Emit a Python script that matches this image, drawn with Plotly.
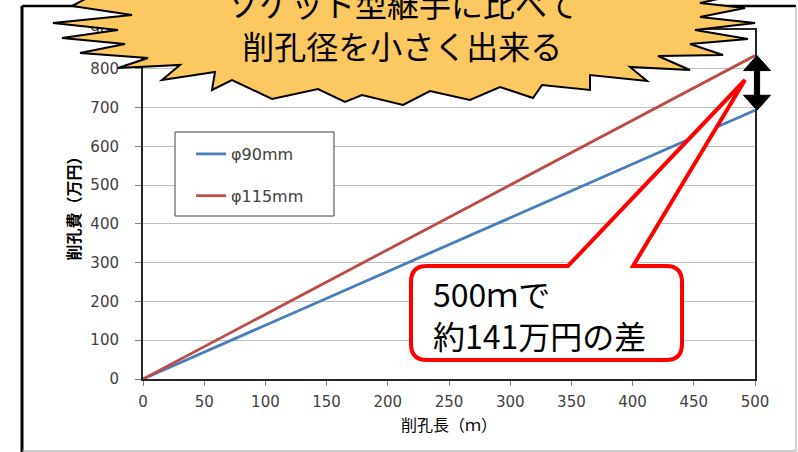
import plotly.graph_objects as go

# ---------------- data ----------------
length_m = [0, 500]
cost_phi90 = [0, 693]
cost_phi115 = [0, 834]
series_names = ["φ90mm", "φ115mm"]
series_colors = ["#4A7EBB", "#BE4B48"]
x_ticks = [0, 50, 100, 150, 200, 250, 300, 350, 400, 450, 500]
y_ticks = [0, 100, 200, 300, 400, 500, 600, 700, 800, 900]
x_title = "削孔長（ｍ）"
y_title = "<b>削孔費（万円）</b>"
burst_lines = ["ソケット型継手に比べて", "削孔径を小さく出来る"]
callout_lines = ["500ｍで", "約141万円の差"]

# ---------------- layout geometry (px) ----------------
W, H = 798, 452
PL, PR, PT, PB = 143, 755, 30, 379  # plot area edges
YMAX = 900


def pp(x, y):
    """pixel -> paper coordinates"""
    return (x - PL) / (PR - PL), (PB - y) / (PB - PT)


def path_from(cmds):
    out = []
    for c in cmds:
        if c == "Z":
            out.append("Z")
        else:
            op, pts = c[0], c[1:]
            s = op
            for (x, y) in pts:
                u, v = pp(x, y)
                s += f" {u:.5f},{v:.5f}"
            out.append(s)
    return " ".join(out)


def ypx(v):
    return PB - v * (PB - PT) / YMAX


fig = go.Figure()
for i, (name, ys) in enumerate(zip(series_names, [cost_phi90, cost_phi115])):
    fig.add_trace(go.Scatter(
        x=length_m, y=ys, mode="lines", name=name,
        line=dict(color=series_colors[i], width=2.8),
        legendgroup=f"g{i}",
    ))

shapes = []

# outer chart frame
for (x0, y0, x1, y1, col, w) in [
    (22, 6, 22, 452, "#000000", 3),
    (22, 6, 796, 6, "#000000", 2.5),
    (796, 6, 796, 451, "#A0A0A0", 1),
    (22, 451, 796, 451, "#A0A0A0", 1),
]:
    a, b = pp(x0, y0)
    c, d = pp(x1, y1)
    shapes.append(dict(type="line", xref="paper", yref="paper", x0=a, y0=b, x1=c, y1=d,
                       line=dict(color=col, width=w), layer="above"))

# legend box
a, b = pp(175, 132)
c, d = pp(334, 216)
shapes.append(dict(type="rect", xref="paper", yref="paper", x0=a, y0=b, x1=c, y1=d,
                   line=dict(color="#404040", width=1), fillcolor="white", layer="above"))

# starburst
burst = [(140, -30), (72, 6), (132, 15), (53, 23), (118, 30), (62, 38), (125, 44), (80, 53),
         (148, 58), (118, 68), (180, 65), (162, 80), (215, 72), (212, 90), (232, 80), (272, 99),
         (318, 89), (345, 102), (362, 95), (403, 105), (430, 91), (470, 100), (500, 87),
         (533, 98), (542, 85), (590, 90), (590, 75), (647, 81), (630, 67), (690, 70),
         (658, 56), (723, 55), (690, 44), (748, 39), (695, 30), (755, 23), (700, 17),
         (745, 8), (700, 3), (750, -8), (680, -30)]
cmds = [("M", burst[0])] + [("L", p) for p in burst[1:]] + ["Z"]
shapes.append(dict(type="path", xref="paper", yref="paper", path=path_from(cmds),
                   fillcolor="#FCC862", line=dict(color="#000000", width=2), layer="above"))

# callout with pointer
bx0, by0, bx1, by1, r = 411, 266, 682, 360, 16
tip = (745, 80)
cmds = [
    ("M", (bx0 + r, by0)), ("L", (568, by0)), ("L", tip), ("L", (633, by0)),
    ("L", (bx1 - r, by0)), ("Q", (bx1, by0), (bx1, by0 + r)),
    ("L", (bx1, by1 - r)), ("Q", (bx1, by1), (bx1 - r, by1)),
    ("L", (bx0 + r, by1)), ("Q", (bx0, by1), (bx0, by1 - r)),
    ("L", (bx0, by0 + r)), ("Q", (bx0, by0), (bx0 + r, by0)), "Z",
]
shapes.append(dict(type="path", xref="paper", yref="paper", path=path_from(cmds),
                   fillcolor="white", line=dict(color="#FF0000", width=4), layer="above"))

# double-headed arrow between line ends at 500 m
yt, yb = ypx(cost_phi115[-1]), ypx(cost_phi90[-1])
cx, hw, hh, sw = 757, 13.5, 15, 2.6
arrow = [(cx, yt), (cx + hw, yt + hh), (cx + sw, yt + hh), (cx + sw, yb - hh), (cx + hw, yb - hh),
         (cx, yb), (cx - hw, yb - hh), (cx - sw, yb - hh), (cx - sw, yt + hh), (cx - hw, yt + hh)]
cmds = [("M", arrow[0])] + [("L", p) for p in arrow[1:]] + ["Z"]
shapes.append(dict(type="path", xref="paper", yref="paper", path=path_from(cmds),
                   fillcolor="#000000", line=dict(color="#000000", width=1), layer="above"))

annotations = []
u, v = pp(402, 24)
annotations.append(dict(text="<br>".join(burst_lines), x=u, y=v, xref="paper", yref="paper",
                        showarrow=False, xanchor="center", yanchor="middle", align="center",
                        font=dict(family="Noto Sans CJK JP", size=32, color="#000000")))
u, v = pp(431, 314)
annotations.append(dict(text="<br>".join(callout_lines), x=u, y=v, xref="paper", yref="paper",
                        showarrow=False, xanchor="left", yanchor="middle", align="left",
                        font=dict(family="Noto Sans CJK JP", size=32, color="#000000")))

lx, ly = pp(191, 137)
fig.update_layout(
    width=W, height=H,
    margin=dict(l=PL, r=W - PR, t=PT, b=H - PB, pad=0),
    paper_bgcolor="white", plot_bgcolor="white",
    showlegend=True,
    legend=dict(x=lx, y=ly, xanchor="left", yanchor="top", bgcolor="rgba(0,0,0,0)",
                borderwidth=0, traceorder="grouped", tracegroupgap=18,
                font=dict(family="DejaVu Sans", size=16, color="#404040")),
    xaxis=dict(range=[0, 500], tickvals=x_ticks, showgrid=False, zeroline=False,
               showline=True, mirror=True, linecolor="#262626", linewidth=2,
               ticks="outside", ticklen=5, tickcolor="#808080", ticklabelstandoff=3,
               tickfont=dict(family="DejaVu Sans", size=15, color="#404040"),
               title=dict(text=x_title, standoff=10,
                          font=dict(family="Noto Sans CJK JP", size=16, color="#000000"))),
    yaxis=dict(range=[0, YMAX], tickvals=y_ticks, showgrid=True, gridcolor="#BFBFBF",
               gridwidth=1, zeroline=False,
               showline=True, mirror=True, linecolor="#262626", linewidth=2,
               ticks="outside", ticklen=6, tickcolor="#808080", ticklabelstandoff=13,
               tickfont=dict(family="DejaVu Sans", size=15, color="#404040"),
               title=dict(text=y_title, standoff=6,
                          font=dict(family="Noto Sans CJK JP", size=16, color="#000000"))),
    shapes=shapes,
    annotations=annotations,
)

fig.write_html("out.html")
